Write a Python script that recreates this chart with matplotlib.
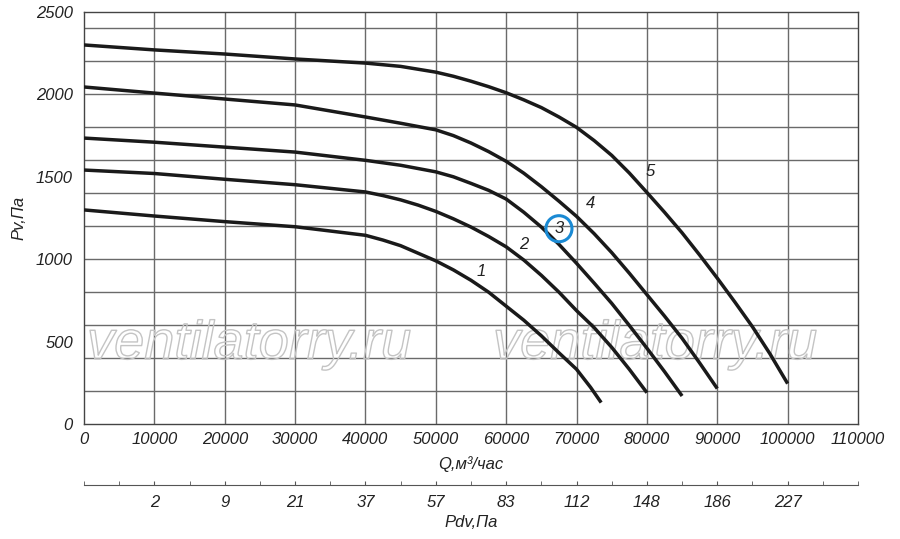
import matplotlib
matplotlib.use("Agg")
import matplotlib.pyplot as plt
import matplotlib.patheffects as pe
from matplotlib.patches import Ellipse

plt.rcParams['font.family'] = ['Liberation Sans', 'DejaVu Sans']

# ---- data ----
q1 = [0, 10000, 20000, 30000, 40000, 42500, 45000, 47500, 50000, 52500, 55000, 57500,
      60000, 62500, 65000, 67500, 70000, 72000, 73500]
p1 = [1299, 1262, 1228, 1197, 1145, 1116, 1082, 1036, 990, 935, 872, 800,
      715, 630, 535, 432, 332, 222, 130]

q2 = [0, 10000, 20000, 30000, 40000, 42500, 45000, 47500, 50000, 52500, 55000, 57500,
      60000, 62500, 65000, 67500, 70000, 72500, 75000, 77500, 80000]
p2 = [1541, 1520, 1485, 1452, 1408, 1386, 1360, 1328, 1290, 1245, 1195, 1138,
      1075, 995, 902, 800, 688, 585, 465, 332, 190]

q3 = [0, 10000, 20000, 30000, 40000, 45000, 50000, 52500, 55000, 57500, 60000, 62500,
      65000, 67500, 70000, 72500, 75000, 77500, 80000, 82500, 85000]
p3 = [1735, 1710, 1680, 1650, 1600, 1570, 1530, 1500, 1460, 1418, 1365, 1285,
      1195, 1090, 975, 855, 732, 598, 460, 318, 170]

q4 = [0, 10000, 20000, 30000, 40000, 45000, 50000, 52500, 55000, 57500, 60000, 62500,
      65000, 67500, 70000, 72500, 75000, 77500, 80000, 82500, 85000, 87500, 90000]
p4 = [2045, 2008, 1972, 1936, 1863, 1825, 1785, 1750, 1705, 1653, 1594, 1522,
      1440, 1352, 1260, 1155, 1040, 915, 785, 655, 520, 370, 215]

q5 = [0, 10000, 20000, 30000, 40000, 45000, 50000, 52500, 55000, 57500, 60000, 62500,
      65000, 67500, 70000, 72500, 75000, 77500, 80000, 82500, 85000, 87500, 90000,
      92500, 95000, 97500, 100000]
p5 = [2300, 2270, 2245, 2215, 2190, 2170, 2135, 2110, 2080, 2047, 2010, 1967,
      1920, 1863, 1800, 1720, 1630, 1523, 1405, 1285, 1160, 1025, 885,
      740, 590, 425, 245]

curve_labels = ['1', '2', '3', '4', '5']
label_q = [56500, 62500, 67500, 72000, 80500]
label_p = [925, 1090, 1185, 1335, 1530]

q_ticks = [0, 10000, 20000, 30000, 40000, 50000, 60000, 70000, 80000, 90000, 100000, 110000]
p_ticks = [0, 500, 1000, 1500, 2000, 2500]
pdv_pos = [10000, 20000, 30000, 40000, 50000, 60000, 70000, 80000, 90000, 100000]
pdv_labels = ['2', '9', '21', '37', '57', '83', '112', '148', '186', '227']

W, H = 900, 539
fig = plt.figure(figsize=(9, 5.39), dpi=100)
ax = fig.add_axes([84 / W, 1 - 424 / H, (858 - 84) / W, (424 - 12) / H])
ax.set_xlim(0, 110000)
ax.set_ylim(0, 2500)

# grid
for x in range(10000, 110000, 10000):
    ax.axvline(x, color='#6a6a6a', lw=1.0, zorder=1)
for y in list(range(200, 2500, 200)):
    ax.axhline(y, color='#6a6a6a', lw=1.0, zorder=1)

for s in ax.spines.values():
    s.set_color('#444444')
    s.set_linewidth(1.0)

ax.set_xticks(q_ticks)
ax.set_xticklabels([str(v) for v in q_ticks], fontsize=12, style='italic', color='#222222')
ax.set_yticks(p_ticks)
ax.set_yticklabels([str(v) for v in p_ticks], fontsize=12, style='italic', color='#222222')
ax.tick_params(axis='both', length=0, pad=8)
ax.tick_params(axis='x', pad=6)

# watermark
for xw in [23450, 81150]:
    ax.text(xw, 480, 'ventilatorry.ru', fontsize=39, style='italic', color='none',
            ha='center', va='center', zorder=2,
            path_effects=[pe.Stroke(linewidth=1.0, foreground='#c4c4c4')])

# curves
for q, p in [(q1, p1), (q2, p2), (q3, p3), (q4, p4), (q5, p5)]:
    ax.plot(q, p, color='#1a1a1a', lw=2.5, solid_capstyle='butt',
            solid_joinstyle='round', zorder=3)

for lab, lq, lp in zip(curve_labels, label_q, label_p):
    ax.text(lq, lp, lab, fontsize=12, style='italic', color='#222222',
            ha='center', va='center', zorder=4)

# blue circle around label 3
circ = Ellipse((label_q[2], label_p[2]), width=3700, height=158,
               fill=False, edgecolor='#1a8ad4', lw=2.2, zorder=4)
ax.add_patch(circ)

ax.set_xlabel('Q,м³/час', fontsize=12, style='italic', color='#222222', labelpad=6)
ax.set_ylabel('Pv,Па', fontsize=12, style='italic', color='#222222', labelpad=7)

# secondary Pdv axis
ax2 = fig.add_axes([84 / W, 1 - 485 / H, (858 - 84) / W, 0.0001])
ax2.set_xlim(0, 110000)
for k in ['top', 'left', 'right']:
    ax2.spines[k].set_visible(False)
ax2.spines['bottom'].set_color('#555555')
ax2.set_yticks([])
ax2.set_xticks(pdv_pos)
ax2.set_xticklabels(pdv_labels, fontsize=12, style='italic', color='#222222')
ax2.set_xticks(list(range(0, 110001, 5000)), minor=True)
ax2.tick_params(axis='x', which='both', direction='in', length=3, color='#555555', pad=7)
ax2.set_xlabel('Pdv,Па', fontsize=12, style='italic', color='#222222', labelpad=4)

fig.savefig('out.png', dpi=100)
